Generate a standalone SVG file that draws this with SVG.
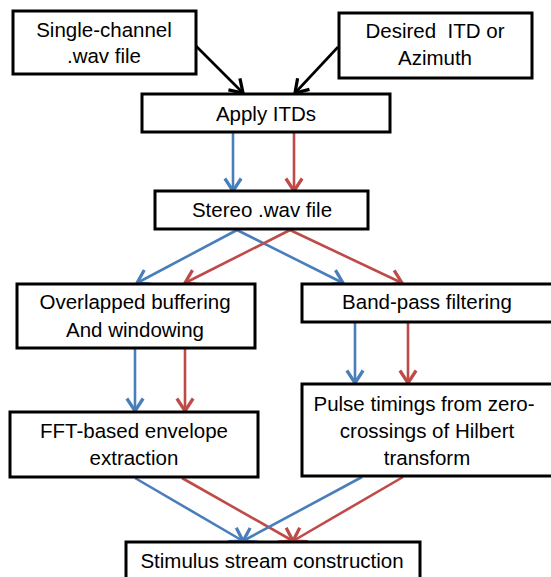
<svg xmlns="http://www.w3.org/2000/svg" width="551" height="577" viewBox="0 0 551 577">
<defs>
<marker id="ak" markerUnits="userSpaceOnUse" markerWidth="20" markerHeight="20" viewBox="-12 -8 14 16" refX="0" refY="0" orient="auto"><path d="M-10,-6.5 L0,0 L-10,6.5" fill="none" stroke="#000" stroke-width="2.6"/></marker>
<marker id="ab" markerUnits="userSpaceOnUse" markerWidth="20" markerHeight="20" viewBox="-12 -8 14 16" refX="0" refY="0" orient="auto"><path d="M-10,-6.5 L0,0 L-10,6.5" fill="none" stroke="#4A7EBB" stroke-width="2.6"/></marker>
<marker id="ar" markerUnits="userSpaceOnUse" markerWidth="20" markerHeight="20" viewBox="-12 -8 14 16" refX="0" refY="0" orient="auto"><path d="M-10,-6.5 L0,0 L-10,6.5" fill="none" stroke="#BE4B48" stroke-width="2.6"/></marker>
</defs>
<style>
rect{fill:#fff;stroke:#000;stroke-width:3}
text{font-family:"Liberation Sans",Arial,sans-serif;font-size:20.5px;fill:#000;text-anchor:middle}
.k{stroke:#000;stroke-width:2.6;fill:none;marker-end:url(#ak)}
.b{stroke:#4A7EBB;stroke-width:2.6;fill:none;marker-end:url(#ab)}
.r{stroke:#BE4B48;stroke-width:2.6;fill:none;marker-end:url(#ar)}
</style>
<g id="connectors">
<line class="k" x1="196" y1="46" x2="243" y2="93"/>
<line class="k" x1="338" y1="47" x2="295" y2="93"/>
<line class="b" x1="233" y1="132" x2="233" y2="191"/>
<line class="r" x1="294" y1="132" x2="294" y2="191"/>
<line class="b" x1="237" y1="230" x2="137" y2="283"/>
<line class="b" x1="237" y1="230" x2="343" y2="283"/>
<line class="r" x1="290" y1="230" x2="185" y2="283"/>
<line class="r" x1="290" y1="230" x2="402" y2="283"/>
<line class="b" x1="135" y1="349" x2="135" y2="411"/>
<line class="r" x1="185" y1="349" x2="185" y2="411"/>
<line class="b" x1="355" y1="322" x2="355" y2="383"/>
<line class="r" x1="408" y1="322" x2="408" y2="383"/>
<line class="b" x1="135" y1="478" x2="243" y2="541"/>
<line class="r" x1="182" y1="478" x2="293" y2="541"/>
<line class="b" x1="362" y1="477" x2="243" y2="541"/>
<line class="r" x1="403" y1="477" x2="293" y2="541"/>
</g>
<g id="n1"><rect x="13" y="11" width="183" height="63"/><text x="104" y="37">Single-channel</text><text x="104" y="63">.wav file</text></g>
<g id="n2"><rect x="339" y="13" width="193" height="65"/><text x="435" y="38">Desired&#160; ITD or</text><text x="435" y="65">Azimuth</text></g>
<g id="n3"><rect x="142" y="94" width="248" height="38"/><text x="266" y="121">Apply ITDs</text></g>
<g id="n4"><rect x="155" y="191" width="213" height="38"/><text x="262" y="217">Stereo .wav file</text></g>
<g id="n5"><rect x="17" y="284" width="238" height="64"/><text x="135" y="309">Overlapped buffering</text><text x="135" y="337">And windowing</text></g>
<g id="n6"><rect x="302" y="284" width="252" height="38"/><text x="427" y="309">Band-pass filtering</text></g>
<g id="n7"><rect x="302" y="384" width="252" height="92"/><text x="424" y="411">Pulse timings from zero-</text><text x="427" y="438">crossings of Hilbert</text><text x="427" y="465">transform</text></g>
<g id="n8"><rect x="10" y="412" width="248" height="65"/><text x="134" y="438">FFT-based envelope</text><text x="134" y="465">extraction</text></g>
<g id="n9"><rect x="126" y="542" width="294" height="40"/><text x="272" y="568">Stimulus stream construction</text></g>
</svg>
